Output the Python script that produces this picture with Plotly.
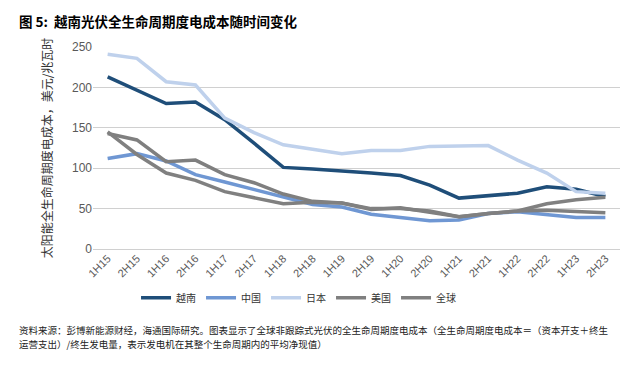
import plotly.graph_objects as go

periods = ["1H15", "2H15", "1H16", "2H16", "1H17", "2H17", "1H18", "2H18", "1H19",
           "2H19", "1H20", "2H20", "1H21", "2H21", "1H22", "2H22", "1H23", "2H23"]
vietnam = [213, 197, 180, 182, 160, 131, 101, 99, 97, 94, 91, 79, 63, 66, 69, 77, 74, 65]
china = [112, 118, 109, 92, 83, 74, 65, 55, 52, 43, 39, 35, 36, 44, 46, 43, 39, 39]
japan = [241, 236, 207, 203, 162, 144, 129, 123, 118, 122, 122, 127, 127, 128, 110, 94, 71, 69]
usa = [143, 135, 108, 110, 92, 82, 68, 59, 57, 49, 51, 45, 40, 44, 47, 48, 46, 45]
world = [145, 117, 94, 85, 71, 64, 56, 58, 57, 50, 50, 47, 40, 44, 47, 56, 61, 64]

series = [("越南", vietnam, "#1f4e79"),
          ("中国", china, "#6f97d3"),
          ("日本", japan, "#bfd1ec"),
          ("美国", usa, "#7f7f7f"),
          ("全球", world, "#808080")]

font_cjk = "Noto Sans CJK SC"
fig = go.Figure()
for name, vals, color in series:
    fig.add_trace(go.Scatter(x=periods, y=vals, name=name, mode="lines",
                             line=dict(color=color, width=3.5)))

fig.update_layout(
    width=640, height=367,
    margin=dict(l=85, r=28, t=39, b=126),
    paper_bgcolor="white", plot_bgcolor="white",
    font=dict(family=font_cjk, color="#595959"),
    showlegend=True,
    legend=dict(orientation="h", x=0.39, xanchor="center", y=-0.17, yanchor="top",
                font=dict(size=10, color="#333333", family=font_cjk),
                itemwidth=30, tracegroupgap=0, bgcolor="rgba(0,0,0,0)"),
    xaxis=dict(type="category", range=[-0.5, 17.5], tickangle=-45, showgrid=False,
               showline=False, ticks="", tickfont=dict(size=11, color="#595959", family="Liberation Sans")),
    yaxis=dict(range=[0, 250], dtick=50, showgrid=True, gridcolor="#d0d0d0", gridwidth=1,
               zeroline=True, zerolinecolor="#d0d0d0", zerolinewidth=1,
               tickfont=dict(size=12, color="#595959", family="Liberation Sans"),
               title=dict(text="太阳能全生命周期度电成本，美元/兆瓦时", standoff=16,
                          font=dict(size=12, color="#333333", family=font_cjk))),
)

fig.add_annotation(text="<b>图 5:  越南光伏全生命周期度电成本随时间变化</b>", xref="paper", yref="paper",
                   x=-0.145, y=1.13, xanchor="left", yanchor="middle", showarrow=False,
                   font=dict(size=13.5, color="#000000", family=font_cjk))
foot_lines = ["资料来源：彭博新能源财经，海通国际研究。图表显示了全球非跟踪式光伏的全生命周期度电成本（全生命周期度电成本＝（资本开支＋终生",
              "运营支出）/终生发电量，表示发电机在其整个生命周期内的平均净现值）"]
for i, line in enumerate(foot_lines):
    fig.add_annotation(text=line, xref="paper", yref="paper", x=-0.145, y=-0.40 - 0.07 * i,
                       xanchor="left", yanchor="middle", align="left", showarrow=False,
                       font=dict(size=9.5, color="#222222", family=font_cjk))

fig.write_html("out.html")
